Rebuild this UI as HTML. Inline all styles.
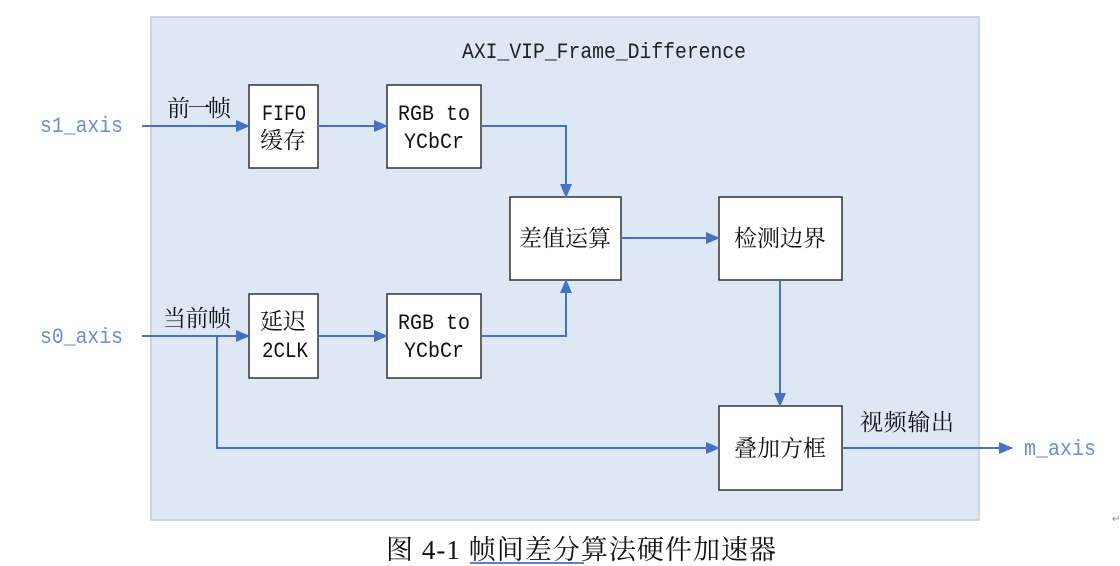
<!DOCTYPE html>
<html><head><meta charset="utf-8"><style>
body{margin:0;background:#fff;width:1120px;height:566px;overflow:hidden}
svg{display:block}
.m{font-family:"Liberation Mono","Noto Serif CJK SC",monospace;font-size:22px}
.c{font-family:"Liberation Serif","Noto Serif CJK SC",serif;font-size:23px;fill:#111}
.b{fill:#fff;stroke:#333;stroke-width:1.5}
.l{stroke:#4472c4;stroke-width:2;fill:none}
</style></head><body>
<svg width="1120" height="566" viewBox="0 0 1120 566">
<defs><marker id="a" markerWidth="14" markerHeight="12" refX="13" refY="6" orient="auto" markerUnits="userSpaceOnUse"><path d="M0,0 L14,6 L0,12 Z" fill="#4472c4"/></marker></defs>
<rect x="151" y="17" width="828" height="503" fill="#dde8f4" stroke="#c5cbd3" stroke-width="1.5"/>
<text x="462" y="58" class="m" fill="#222" textLength="284" lengthAdjust="spacingAndGlyphs">AXI_VIP_Frame_Difference</text>
<rect class="b" x="249" y="85" width="69" height="83"/>
<rect class="b" x="387" y="85" width="94" height="83"/>
<rect class="b" x="510" y="197" width="111" height="83"/>
<rect class="b" x="719" y="197" width="123" height="83"/>
<rect class="b" x="249" y="294" width="69" height="84"/>
<rect class="b" x="387" y="294" width="94" height="84"/>
<rect class="b" x="719" y="406" width="123" height="84"/>
<path class="l" d="M142,126 H249" marker-end="url(#a)"/>
<path class="l" d="M318,126 H387" marker-end="url(#a)"/>
<path class="l" d="M481,126 H566 V197" marker-end="url(#a)"/>
<path class="l" d="M481,336 H566 V280" marker-end="url(#a)"/>
<path class="l" d="M621,238 H719" marker-end="url(#a)"/>
<path class="l" d="M780,280 V406" marker-end="url(#a)"/>
<path class="l" d="M142,336 H249" marker-end="url(#a)"/>
<path class="l" d="M318,336 H387" marker-end="url(#a)"/>
<path class="l" d="M217,336 V448 H719" marker-end="url(#a)"/>
<path class="l" d="M842,448 H1012" marker-end="url(#a)"/>
<text x="40" y="132" class="m" fill="#6a8fd0" textLength="83" lengthAdjust="spacingAndGlyphs">s1_axis</text>
<text x="40" y="343" class="m" fill="#6a8fd0" textLength="83" lengthAdjust="spacingAndGlyphs">s0_axis</text>
<text x="1024" y="455" class="m" fill="#6a8fd0" textLength="72" lengthAdjust="spacingAndGlyphs">m_axis</text>
<text x="167" y="116" class="c" textLength="64">前一帧</text>
<text x="163" y="326" class="c" textLength="68">当前帧</text>
<text x="860" y="430" class="c" textLength="94">视频输出</text>
<text x="262" y="120" class="m" fill="#111" textLength="44" lengthAdjust="spacingAndGlyphs">FIFO</text>
<text x="283" y="148" class="c" text-anchor="middle">缓存</text>
<text x="398" y="120" class="m" fill="#111" textLength="72" lengthAdjust="spacingAndGlyphs">RGB to</text>
<text x="404" y="148" class="m" fill="#111" textLength="60" lengthAdjust="spacingAndGlyphs">YCbCr</text>
<text x="283" y="329" class="c" text-anchor="middle">延迟</text>
<text x="262" y="357" class="m" fill="#111" textLength="46" lengthAdjust="spacingAndGlyphs">2CLK</text>
<text x="398" y="329" class="m" fill="#111" textLength="72" lengthAdjust="spacingAndGlyphs">RGB to</text>
<text x="404" y="357" class="m" fill="#111" textLength="60" lengthAdjust="spacingAndGlyphs">YCbCr</text>
<text x="565" y="246" class="c" text-anchor="middle">差值运算</text>
<text x="780" y="246" class="c" text-anchor="middle">检测边界</text>
<text x="780" y="456" class="c" text-anchor="middle">叠加方框</text>
<text x="386" y="559" font-family="Liberation Serif,'Noto Serif CJK SC',serif" font-size="27" fill="#111" textLength="390">图 4-1  帧间差分算法硬件加速器</text>
<line x1="470" y1="563" x2="584" y2="563" stroke="#2255cc" stroke-width="1.5"/>
<text x="1112" y="522" font-size="10" fill="#888" font-family="Liberation Sans,sans-serif">↵</text>
</svg>
</body></html>
